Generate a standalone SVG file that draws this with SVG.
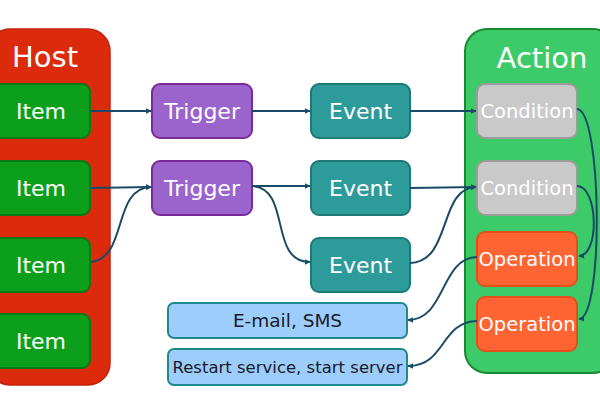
<svg xmlns="http://www.w3.org/2000/svg" width="600" height="400" viewBox="0 0 600 400">
<defs>
<marker id="ah" viewBox="0 0 10 10" refX="9" refY="5" markerWidth="6" markerHeight="6" orient="auto" markerUnits="userSpaceOnUse">
<path d="M0,0 L10,5 L0,10 z" fill="#1b4a68"/>
</marker>
<style>
text{font-family:"DejaVu Sans",Verdana,sans-serif;text-anchor:middle}
.w{fill:#ffffff}
.big{font-size:29px}
.n{font-size:22px}
.s{font-size:19.5px}
.host{fill:#dc2a0c;stroke:#c52008;stroke-width:1.5}
.item{fill:#0b9f1c;stroke:#097a14;stroke-width:2}
.trig{fill:#9b63cc;stroke:#7b2a9a;stroke-width:2}
.evt{fill:#2e9b9b;stroke:#1d7878;stroke-width:2}
.act{fill:#3ccb68;stroke:#1a8a30;stroke-width:2}
.cond{fill:#c9c9c9;stroke:#9b9b9b;stroke-width:2}
.op{fill:#ff6432;stroke:#e4501c;stroke-width:2}
.out{fill:#9dcdfa;stroke:#1f8a8a;stroke-width:2}
.dk{fill:#1a1a2a}
#connectors path{fill:none;stroke:#1b4a68;stroke-width:2;marker-end:url(#ah)}
</style>
</defs>
<rect width="600" height="400" fill="#ffffff"/>

<g id="host">
<rect class="host" x="-12" y="29" width="122" height="356" rx="22"/>
<text class="w big" x="45" y="67">Host</text>
</g>
<g id="item1"><rect class="item" x="-10" y="84" width="100" height="54" rx="8"/><text class="w n" x="41" y="119">Item</text></g>
<g id="item2"><rect class="item" x="-10" y="161" width="100" height="54" rx="8"/><text class="w n" x="41" y="196">Item</text></g>
<g id="item3"><rect class="item" x="-10" y="238" width="100" height="54" rx="8"/><text class="w n" x="41" y="273">Item</text></g>
<g id="item4"><rect class="item" x="-10" y="314" width="100" height="54" rx="8"/><text class="w n" x="41" y="349">Item</text></g>

<g id="trigger1"><rect class="trig" x="152" y="84" width="100" height="54" rx="8"/><text class="w n" x="202" y="119">Trigger</text></g>
<g id="trigger2"><rect class="trig" x="152" y="161" width="100" height="54" rx="8"/><text class="w n" x="202" y="196">Trigger</text></g>

<g id="event1"><rect class="evt" x="311" y="84" width="99" height="54" rx="8"/><text class="w n" x="360.5" y="119">Event</text></g>
<g id="event2"><rect class="evt" x="311" y="161" width="99" height="54" rx="8"/><text class="w n" x="360.5" y="196">Event</text></g>
<g id="event3"><rect class="evt" x="311" y="238" width="99" height="54" rx="8"/><text class="w n" x="360.5" y="273">Event</text></g>

<g id="action">
<rect class="act" x="465" y="29" width="150" height="344" rx="22"/>
<text class="w big" x="542" y="68">Action</text>
</g>
<g id="condition1"><rect class="cond" x="477" y="84" width="100" height="54" rx="8"/><text class="w s" x="527" y="118">Condition</text></g>
<g id="condition2"><rect class="cond" x="477" y="161" width="100" height="54" rx="8"/><text class="w s" x="527" y="195">Condition</text></g>
<g id="operation1"><rect class="op" x="477" y="232" width="100" height="54" rx="8"/><text class="w s" x="527" y="266">Operation</text></g>
<g id="operation2"><rect class="op" x="477" y="297" width="100" height="54" rx="8"/><text class="w s" x="527" y="331">Operation</text></g>

<g id="email"><rect class="out" x="168" y="303" width="239" height="35" rx="6"/><text class="dk" x="287.5" y="327" font-size="18.5">E-mail, SMS</text></g>
<g id="restart"><rect class="out" x="168" y="349" width="239" height="36" rx="6"/><text class="dk" x="287.5" y="373" font-size="16.5">Restart service, start server</text></g>

<g id="connectors">
<path d="M90,111 L151,111"/>
<path d="M90,188 L151,187"/>
<path d="M91,262 C128,258 112,188 151,187"/>
<path d="M252,111 L310,111"/>
<path d="M252,186 L310,186"/>
<path d="M252,186 C292,188 268,262 310,262"/>
<path d="M410,111 L476,111"/>
<path d="M410,188 L476,187"/>
<path d="M410,263 C452,262 438,188 476,187"/>
<path d="M577,109 C602,110 604,318 579,319"/>
<path d="M577,186 C598,186 600,255 579,256"/>
<path d="M477,257 C440,258 446,320 408,320"/>
<path d="M477,321 C440,322 446,366 408,366"/>
</g>
</svg>
